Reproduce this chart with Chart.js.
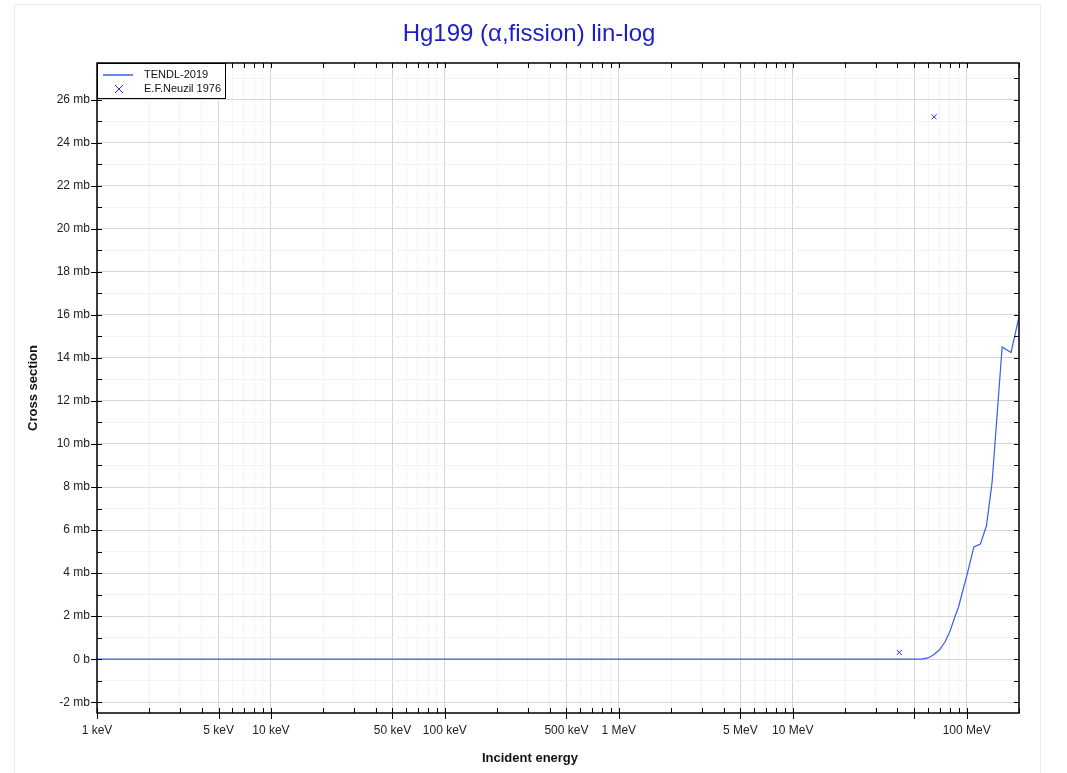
<!DOCTYPE html>
<html>
<head>
<meta charset="utf-8">
<script src="https://cdn.jsdelivr.net/npm/chart.js@4"></script>
<style>
body { margin:0; background:#fff; }
#wrap { position:relative; width:1067px; height:773px; }
#frame { position:absolute; left:14px; top:4px; width:1027px; height:800px; border:1px solid #ececec; box-sizing:border-box; }
#myChart { position:absolute; left:0; top:0; }
</style>
</head>
<body>
<div id="wrap">
<div id="frame"></div>
<canvas id="myChart" width="1067" height="773"></canvas>
</div>
<script>
// energies in MeV, cross sections in mb
var tendlE  = [0.001, 1, 10, 40, 55, 60, 65, 70, 75, 80, 85, 90, 95, 100, 110, 120, 130, 140, 160, 180, 200];
var tendlXS = [0, 0, 0, 0, 0, 0.06, 0.22, 0.45, 0.8, 1.27, 1.9, 2.45, 3.18, 3.85, 5.22, 5.35, 6.2, 8.2, 14.5, 14.25, 15.9];

var neuzilE  = [41, 65];
var neuzilXS = [0.31, 25.2];

var xTickValues = [0.001, 0.005, 0.01, 0.05, 0.1, 0.5, 1, 5, 10, 100];
var xTickLabels = ['1 keV', '5 keV', '10 keV', '50 keV', '100 keV', '500 keV', '1 MeV', '5 MeV', '10 MeV', '100 MeV'];

var yTickValues = [-2, 0, 2, 4, 6, 8, 10, 12, 14, 16, 18, 20, 22, 24, 26];
var yTickLabels = ['-2 mb', '0 b', '2 mb', '4 mb', '6 mb', '8 mb', '10 mb', '12 mb', '14 mb', '16 mb', '18 mb', '20 mb', '22 mb', '24 mb', '26 mb'];

var titleText = 'Hg199 (α,fission) lin-log';
var xTitle = 'Incident energy';
var yTitle = 'Cross section';

var FONT = '"Liberation Sans", Arial, sans-serif';

function isMajorX(v){
	var m = v / Math.pow(10, Math.floor(Math.log10(v) + 1e-9));
	m = Math.round(m);
	return m === 1 || m === 5;
}

var decorPlugin = {
	id: 'decor',
	afterDatasetsDraw: function(chart){
		var ctx = chart.ctx;
		var a = chart.chartArea;
		var xs = chart.scales.x, ys = chart.scales.y;
		ctx.save();
		ctx.strokeStyle = '#000';
		ctx.lineWidth = 1;
		// x ticks bottom/top
		xs.ticks.forEach(function(t){
			var px = Math.round(xs.getPixelForValue(t.value)) + 0.5;
			var major = isMajorX(t.value);
			ctx.beginPath();
			ctx.moveTo(px, a.bottom - 5);
			ctx.lineTo(px, a.bottom + (major ? 6 : 0));
			ctx.moveTo(px, a.top);
			ctx.lineTo(px, a.top + 5);
			ctx.stroke();
		});
		ys.ticks.forEach(function(t){
			var py = Math.round(ys.getPixelForValue(t.value)) + 0.5;
			var major = yTickValues.indexOf(t.value) >= 0;
			ctx.beginPath();
			ctx.moveTo(a.left - (major ? 6 : 0), py);
			ctx.lineTo(a.left + 5, py);
			ctx.moveTo(a.right - 5, py);
			ctx.lineTo(a.right, py);
			ctx.stroke();
		});
		// frame
		ctx.lineWidth = 1.5;
		ctx.strokeRect(a.left, a.top, a.right - a.left, a.bottom - a.top);

		// legend
		var ds = chart.data.datasets;
		var lx = a.left, ly = a.top;
		ctx.fillStyle = '#fff';
		ctx.fillRect(lx, ly, 128, 35);
		ctx.lineWidth = 1;
		ctx.strokeStyle = '#000';
		ctx.strokeRect(lx + 0.5, ly + 0.5, 128, 35);
		ctx.font = '11px ' + FONT;
		ctx.textBaseline = 'middle';
		ctx.fillStyle = '#111';
		ctx.fillText(ds[0].label, lx + 47, ly + 12);
		ctx.fillText(ds[1].label, lx + 47, ly + 26);
		ctx.strokeStyle = ds[0].borderColor;
		ctx.lineWidth = 1.5;
		ctx.beginPath();
		ctx.moveTo(lx + 6, ly + 12);
		ctx.lineTo(lx + 36, ly + 12);
		ctx.stroke();
		ctx.strokeStyle = ds[1].borderColor;
		ctx.lineWidth = 1;
		ctx.beginPath();
		ctx.moveTo(lx + 18, ly + 22);
		ctx.lineTo(lx + 26, ly + 30);
		ctx.moveTo(lx + 26, ly + 22);
		ctx.lineTo(lx + 18, ly + 30);
		ctx.stroke();

		// titles
		ctx.textAlign = 'center';
		ctx.fillStyle = '#1c1ccc';
		ctx.font = '24px ' + FONT;
		ctx.fillText(titleText, 529, 34);
		ctx.fillStyle = '#111';
		ctx.font = 'bold 13px ' + FONT;
		ctx.fillText(xTitle, 530, 758);
		ctx.translate(33, (a.top + a.bottom) / 2);
		ctx.rotate(-Math.PI / 2);
		ctx.fillText(yTitle, 0, 0);
		ctx.restore();
	}
};

function renderChart(){
	var ctx = document.getElementById('myChart').getContext('2d');
	var tendl = tendlE.map(function(e, i){ return {x: e, y: tendlXS[i]}; });
	var neuzil = neuzilE.map(function(e, i){ return {x: e, y: neuzilXS[i]}; });

	var chart = new Chart(ctx, {
		type: 'scatter',
		data: {
			datasets: [{
				label: 'TENDL-2019',
				data: tendl,
				showLine: true,
				borderColor: 'rgb(55,95,230)',
				backgroundColor: 'rgb(55,95,230)',
				borderWidth: 1.2,
				pointRadius: 0,
				tension: 0
			}, {
				label: 'E.F.Neuzil 1976',
				data: neuzil,
				showLine: false,
				borderColor: 'rgb(40,40,235)',
				backgroundColor: 'rgb(40,40,235)',
				pointStyle: 'crossRot',
				pointRadius: 3.5,
				borderWidth: 1
			}]
		},
		plugins: [decorPlugin],
		options: {
			responsive: false,
			animation: false,
			layout: { padding: { top: 63, right: 48, left: 0, bottom: 0 } },
			plugins: { legend: { display: false }, tooltip: { enabled: false } },
			scales: {
				x: {
					type: 'logarithmic',
					min: 0.001,
					max: 200,
					afterBuildTicks: function(scale){
						var t = [];
						for (var d = -3; d <= 2; d++) {
							for (var m = 1; m <= 9; m++) {
								var v = m * Math.pow(10, d);
								if (v <= 200.0001) t.push({value: v});
							}
						}
						scale.ticks = t;
					},
					afterFit: function(scale){ scale.height = 60; },
					grid: {
						drawTicks: false,
						color: function(c){ return c.tick && isMajorX(c.tick.value) ? '#d6d6d6' : '#f3f3f3'; }
					},
					border: { display: false },
					ticks: {
						autoSkip: false,
						maxRotation: 0,
						padding: 10,
						color: '#222',
						font: { family: FONT, size: 12 },
						callback: function(v){
							for (var i = 0; i < xTickValues.length; i++) {
								if (Math.abs(v - xTickValues[i]) / xTickValues[i] < 1e-6) return xTickLabels[i];
							}
							return '';
						}
					}
				},
				y: {
					min: -2.5,
					max: 27.7,
					afterBuildTicks: function(scale){
						var t = [];
						for (var v = -2; v <= 27; v++) t.push({value: v});
						scale.ticks = t;
					},
					afterFit: function(scale){ scale.width = 97; },
					grid: {
						drawTicks: false,
						color: function(c){ return c.tick && yTickValues.indexOf(c.tick.value) >= 0 ? '#d6d6d6' : '#f3f3f3'; }
					},
					border: { display: false },
					ticks: {
						autoSkip: false,
						padding: 7,
						color: '#222',
						font: { family: FONT, size: 12 },
						callback: function(v){
							var i = yTickValues.indexOf(v);
							return i >= 0 ? yTickLabels[i] : '';
						}
					}
				}
			}
		}
	});
}
renderChart();
</script>
</body>
</html>
